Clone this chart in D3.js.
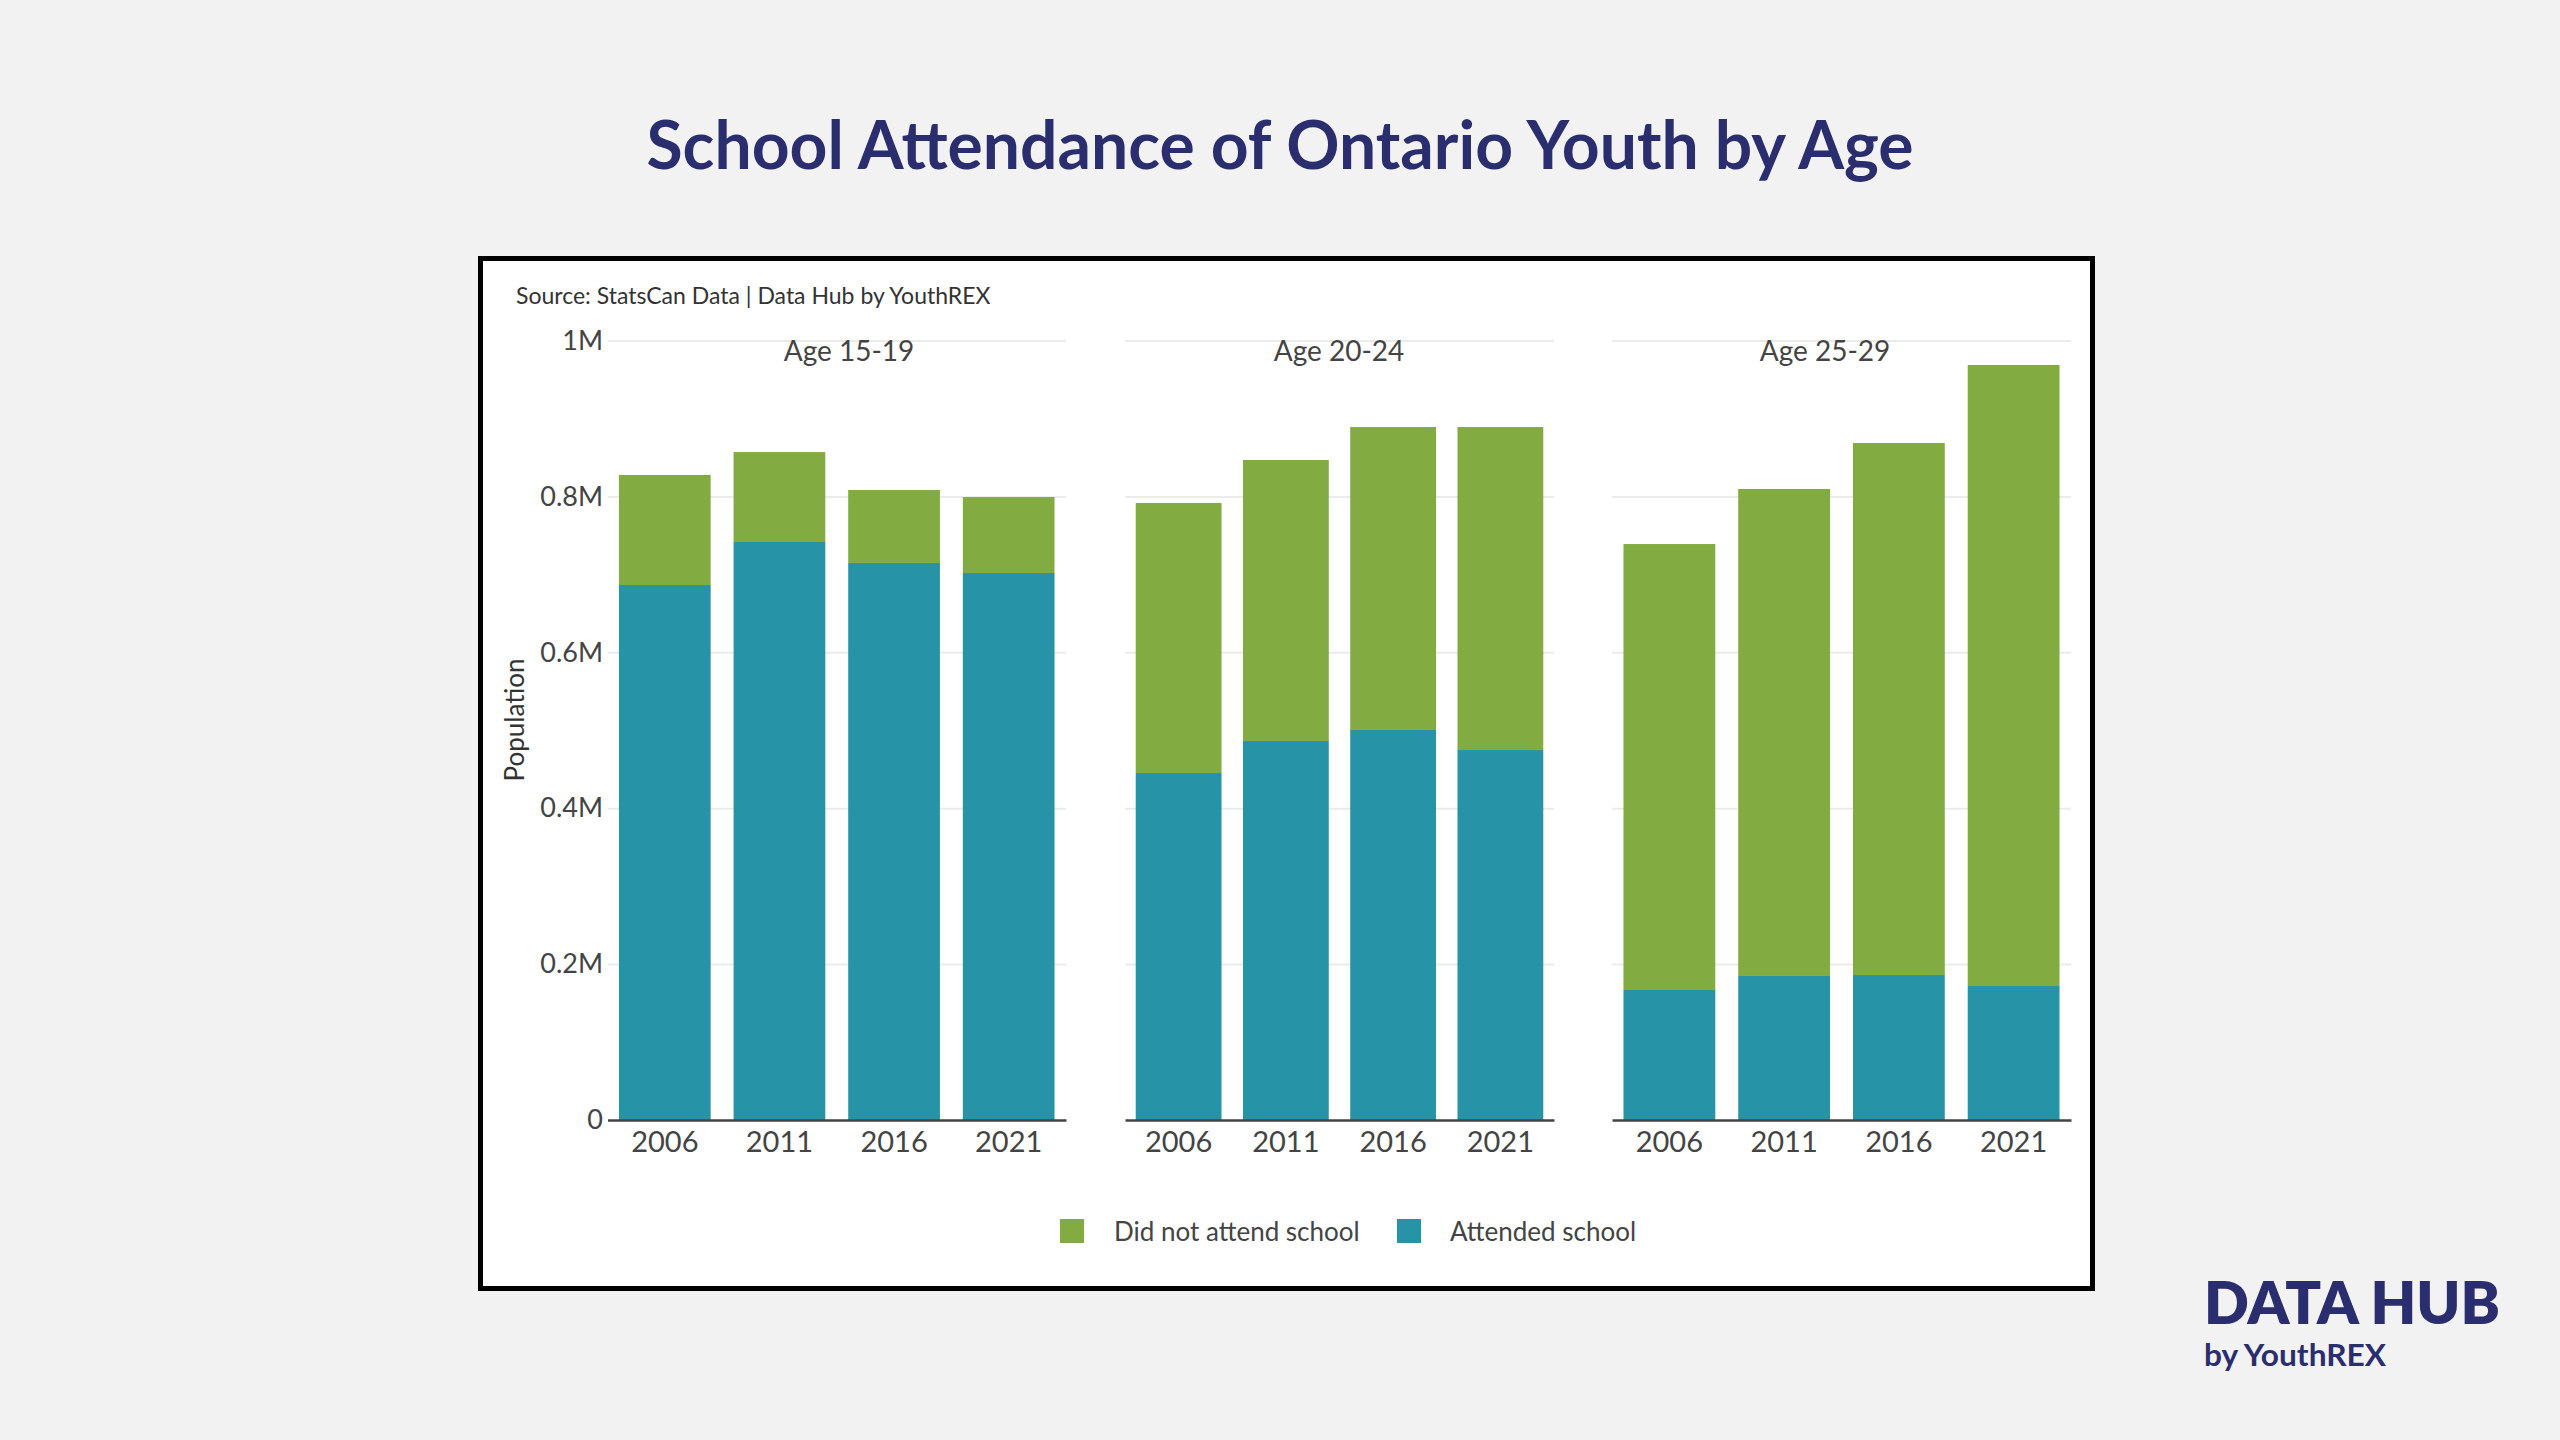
<!DOCTYPE html>
<html>
<head>
<meta charset="utf-8">
<script src="https://cdn.jsdelivr.net/npm/d3@7"></script>
<style>
  html, body { margin: 0; padding: 0; background: #f2f2f2; }
  svg { display: block; }
  text { font-family: Lato, "Open Sans", sans-serif; }
</style>
</head>
<body>
<svg id="chart" width="2560" height="1440"></svg>
<script>
// ---------- data ----------
const years = ["2006", "2011", "2016", "2021"];
const ageGroups = ["Age 15-19", "Age 20-24", "Age 25-29"];
const seriesNames = ["Did not attend school", "Attended school"];

const attended_15_19    = [686400, 741600, 714700, 701800];
const notAttended_15_19 = [141200, 115400,  93600,  97500];
const attended_20_24    = [445200, 486300, 500400, 474700];
const notAttended_20_24 = [346400, 360500, 388700, 414400];
const attended_25_29    = [166800, 184800, 186000, 171900];
const notAttended_25_29 = [572200, 624800, 682600, 796800];

const yTickValues = [0, 200000, 400000, 600000, 800000, 1000000];
const yTickLabels = ["0", "0.2M", "0.4M", "0.6M", "0.8M", "1M"];

const attendedByAge = [attended_15_19, attended_20_24, attended_25_29];
const notAttendedByAge = [notAttended_15_19, notAttended_20_24, notAttended_25_29];

// ---------- style / layout ----------
const colors = { "Did not attend school": "#82ac41", "Attended school": "#2694a6" };
const navy = "#2a2d6e";
const textGray = "#444444";

const svg = d3.select("#chart");
svg.append("rect").attr("width", 2560).attr("height", 1440).attr("fill", "#f2f2f2");

// title
svg.append("text")
  .attr("x", 1280).attr("y", 169)
  .attr("text-anchor", "middle")
  .attr("font-size", 66).attr("font-weight", 700)
  .attr("fill", navy)
  .attr("textLength", 1267).attr("lengthAdjust", "spacingAndGlyphs")
  .text("School Attendance of Ontario Youth by Age");

// frame
svg.append("rect")
  .attr("x", 480.5).attr("y", 258.5).attr("width", 1612).attr("height", 1030)
  .attr("fill", "#ffffff").attr("stroke", "#000000").attr("stroke-width", 5);

// source
svg.append("text")
  .attr("x", 516).attr("y", 304)
  .attr("font-size", 23).attr("fill", "#333333")
  .text("Source: StatsCan Data | Data Hub by YouthREX");

// y scale
const y = d3.scaleLinear().domain([0, 1000000]).range([1120, 340.6]);

const panelRanges = [[607.5, 1066], [1125, 1554], [1612, 2071]];
const facetTitleX = [849, 1339, 1825];

// y-axis tick labels (shared, left of first panel)
const yAxis = d3.axisLeft(y).tickValues(yTickValues)
  .tickFormat((d, i) => yTickLabels[i]).tickSize(0).tickPadding(0);
const yAxisG = svg.append("g").attr("transform", "translate(603,0)").call(yAxis);
yAxisG.select(".domain").remove();
yAxisG.selectAll("text")
  .attr("font-family", "Lato, 'Open Sans', sans-serif")
  .attr("font-size", 27).attr("fill", textGray);

// y-axis title
svg.append("text")
  .attr("transform", "translate(524,720) rotate(-90)")
  .attr("text-anchor", "middle")
  .attr("font-size", 26).attr("fill", "#333333")
  .text("Population");

ageGroups.forEach((age, gi) => {
  const [x0, x1] = panelRanges[gi];
  const x = d3.scaleBand().domain(years).range([x0, x1])
    .paddingInner(0.2).paddingOuter(0.1);

  // gridlines
  const grid = d3.axisLeft(y).tickValues(yTickValues.filter(v => v > 0))
    .tickSize(-(x1 - x0)).tickFormat("");
  const gridG = svg.append("g").attr("transform", `translate(${x0},0)`).call(grid);
  gridG.select(".domain").remove();
  gridG.selectAll("line").attr("stroke", "#ebebeb").attr("stroke-width", 2);

  // stacked data
  const rows = years.map((yr, i) => ({
    year: yr,
    "Attended school": attendedByAge[gi][i],
    "Did not attend school": notAttendedByAge[gi][i]
  }));
  const stack = d3.stack().keys(["Attended school", "Did not attend school"]);
  const layers = stack(rows);

  svg.append("g").selectAll("g")
    .data(layers).join("g")
    .attr("fill", d => colors[d.key])
    .selectAll("rect")
    .data(d => d).join("rect")
    .attr("x", d => x(d.data.year))
    .attr("width", x.bandwidth())
    .attr("y", d => y(d[1]))
    .attr("height", d => y(d[0]) - y(d[1]));

  // x axis
  const xAxis = d3.axisBottom(x).tickSize(0).tickPadding(11);
  const xAxisG = svg.append("g").attr("transform", `translate(0,${y(0)})`).call(xAxis);
  xAxisG.select(".domain").attr("stroke", "#444444").attr("stroke-width", 2.5);
  xAxisG.selectAll("text")
    .attr("font-family", "Lato, 'Open Sans', sans-serif")
    .attr("font-size", 29).attr("fill", textGray);

  // facet title
  svg.append("text")
    .attr("x", facetTitleX[gi]).attr("y", 361)
    .attr("text-anchor", "middle")
    .attr("font-size", 28).attr("fill", textGray)
    .text(age);
});

// legend
const legendItems = [
  { name: seriesNames[0], sx: 1060, tx: 1114 },
  { name: seriesNames[1], sx: 1397, tx: 1450 }
];
const legend = svg.append("g");
legendItems.forEach(it => {
  legend.append("rect")
    .attr("x", it.sx).attr("y", 1219).attr("width", 24).attr("height", 24)
    .attr("fill", colors[it.name]);
  legend.append("text")
    .attr("x", it.tx).attr("y", 1241)
    .attr("font-size", 26).attr("fill", textGray)
    .text(it.name);
});

// logo
svg.append("text")
  .attr("x", 2204).attr("y", 1324)
  .attr("font-size", 58).attr("font-weight", 800).attr("fill", navy)
  .attr("textLength", 296).attr("lengthAdjust", "spacingAndGlyphs")
  .text("DATA HUB");
svg.append("text")
  .attr("x", 2204).attr("y", 1366)
  .attr("font-size", 30).attr("font-weight", 700).attr("fill", navy)
  .attr("textLength", 182).attr("lengthAdjust", "spacingAndGlyphs")
  .text("by YouthREX");
</script>
</body>
</html>
